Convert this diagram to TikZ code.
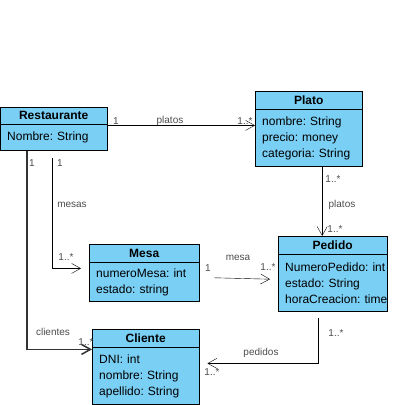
\documentclass[tikz,border=0pt]{standalone}
\usepackage{fontspec}
\setmainfont{Liberation Sans}
\usepackage{xcolor}
\usepackage{tikz}
\usetikzlibrary{arrows.meta,shapes}
\definecolor{umlblue}{RGB}{122,207,245}
\tikzstyle{classhead}=[rectangle,draw=black,fill=umlblue,anchor=north west,inner sep=0pt,font=\fontsize{12}{16}\selectfont\bfseries]
\tikzstyle{classbody}=[rectangle,draw=black,fill=umlblue,anchor=north west,align=left,inner xsep=7pt,inner ysep=0pt,font=\fontsize{12}{16}\selectfont\frenchspacing]
\tikzstyle{assoc}=[-{Straight Barb[length=9pt,width=10pt]},thin]
\tikzstyle{mult}=[inner sep=0pt,text=black!70,font=\fontsize{10}{12}\selectfont]

\begin{document}
\begin{tikzpicture}[x=1pt,y=-1pt]
        \useasboundingbox (0,0) rectangle (402,405);

        % clases
        \node at (0,107)   [classhead,minimum width=107pt,minimum height=17pt] (resth) {Restaurante};
        \node at (resth.south west) [classbody,text width=93pt,minimum height=26pt] (restb) {Nombre:~String};
        \node at (255,91)  [classhead,minimum width=107pt,minimum height=18pt] (platoh) {Plato};
        \node at (platoh.south west) [classbody,text width=93pt,minimum height=57pt] (platob) {nombre:~String\\precio:~money\\categoria:~String};
        \node at (89,244)  [classhead,minimum width=110pt,minimum height=18pt] (mesah) {Mesa};
        \node at (mesah.south west) [classbody,text width=96pt,minimum height=39pt] (mesab) {numeroMesa:~int\\estado:~string};
        \node at (278,236) [classhead,minimum width=109pt,minimum height=18pt] (pedidoh) {Pedido};
        \node at (pedidoh.south west) [classbody,text width=95pt,minimum height=57pt] (pedidob) {NumeroPedido:~int\\estado:~String\\horaCreacion:~time};
        \node at (92,329)  [classhead,minimum width=107pt,minimum height=18pt] (clienteh) {Cliente};
        \node at (clienteh.south west) [classbody,text width=93pt,minimum height=57pt] (clienteb) {DNI:~int\\nombre:~String\\apellido:~String};

        % asociaciones
        \draw [assoc] ([yshift=-1pt]restb.north east) -- ([yshift=-1pt]restb.north east -| platob.west);
        \draw [assoc] ([xshift=13.5pt]platob.south) -- ([xshift=13.5pt]platob.south |- pedidoh.north);
        \draw [assoc,shorten <=7pt,shorten >=8pt] ([xshift=-1.5pt]restb.south) |- ([yshift=-6pt]mesah.south west);
        \draw [assoc,line width=1.5pt,draw=black!80] ([xshift=-26.5pt]restb.south) |- ([yshift=-2pt]clienteh.south west);
        \draw [assoc,shorten <=15pt,shorten >=8pt] ([yshift=-15pt]mesab.north east) -- ([yshift=-25pt]pedidob.north west);
        \draw [assoc,shorten <=6pt,shorten >=8pt] ([xshift=-14.5pt]pedidob.south) |- ([yshift=-16pt]clienteh.south east);

        % etiquetas
        \node at (116,121) [mult] (m1) {1};
        \node at (170,121) [mult] (r1) {platos};
        \node at (245,121) [mult] (m2) {1..*};
        \node at (333,179) [mult] (m3) {1..*};
        \node at (342,205) [mult] (r2) {platos};
        \node at (335,229) [mult] (m4) {1..*};
        \node at (32,163)  [mult] (m5) {1};
        \node at (60,163)  [mult] (m6) {1};
        \node at (72,205)  [mult] (r3) {mesas};
        \node at (66,257)  [mult] (m7) {1..*};
        \node at (208,268) [mult] (m8) {1};
        \node at (238,258) [mult] (r4) {mesa};
        \node at (268,267) [mult] (m9) {1..*};
        \node at (336,333) [mult] (m10) {1..*};
        \node at (261,353) [mult] (r5) {pedidos};
        \node at (212,372) [mult] (m11) {1..*};
        \node at (53,332)  [mult] (r6) {clientes};
        \node at (86,342)  [mult] (m12) {1..*};
      \end{tikzpicture}
\end{document}
